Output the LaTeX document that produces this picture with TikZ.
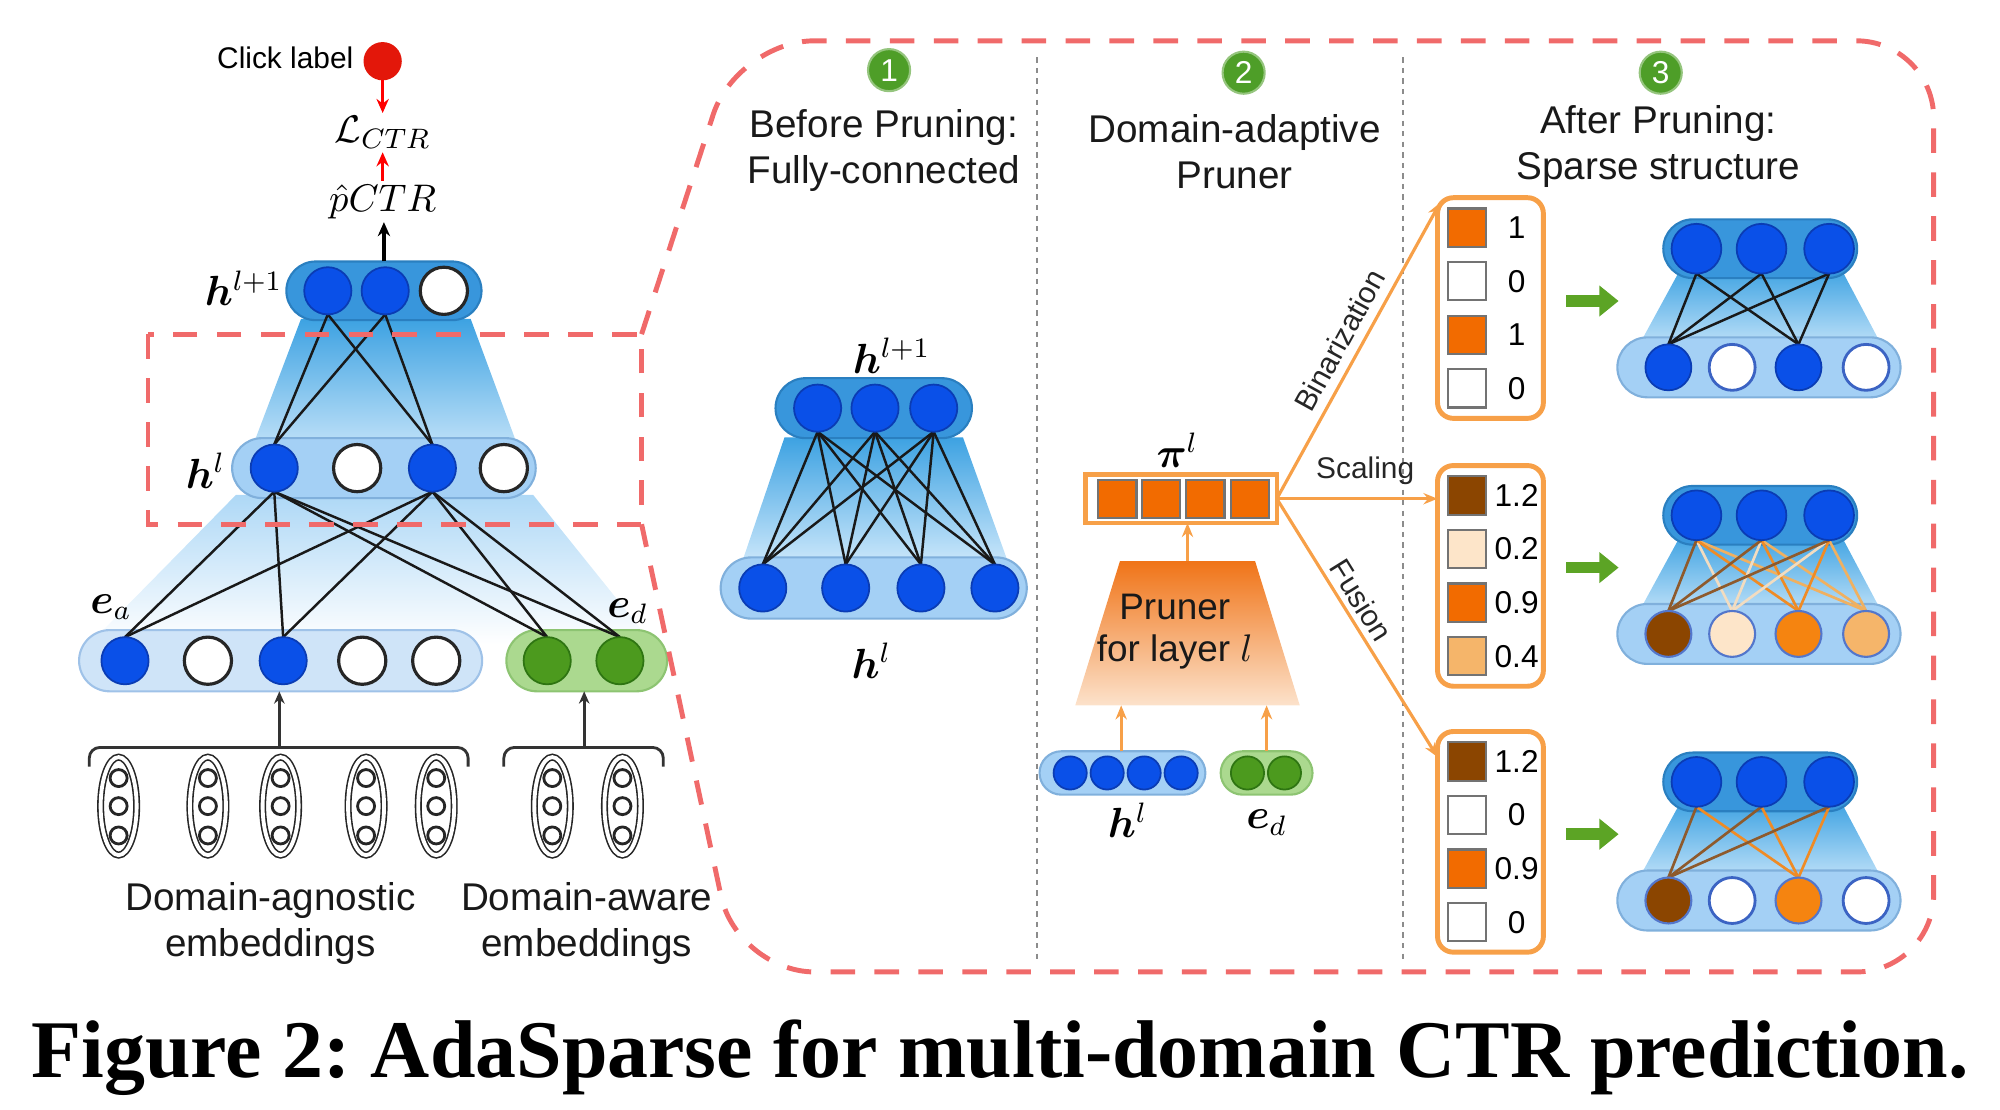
\documentclass[tikz,border=0pt]{standalone}
\usepackage{fontspec}
\setmainfont{Liberation Sans}
\newfontfamily\capfont{Liberation Serif}
\usepackage{amsmath}
\usepackage{bm}
\usetikzlibrary{shapes.misc,arrows.meta,calc}
\pgfdeclarelayer{bg}
\pgfdeclarelayer{edgelayer}
\pgfsetlayers{bg,edgelayer,main}
\def\uu{0.012755cm}
\definecolor{nblue}{HTML}{0A50E8}
\definecolor{nblueline}{HTML}{0A3CB4}
\definecolor{capdark}{HTML}{3896DC}
\definecolor{capdarkline}{HTML}{2A7FC0}
\definecolor{caplight}{HTML}{A4D0F5}
\definecolor{caplightline}{HTML}{80B0DC}
\definecolor{capea}{HTML}{CFE4F8}
\definecolor{capealine}{HTML}{9FC2E8}
\definecolor{shA}{HTML}{3DA2E2}
\definecolor{shB}{HTML}{BFE1F8}
\definecolor{shC}{HTML}{AED8F6}
\definecolor{shD}{HTML}{C9E6FA}
\definecolor{gcap}{HTML}{ABD98F}
\definecolor{gcapline}{HTML}{8DC472}
\definecolor{gnode}{HTML}{4C9A1E}
\definecolor{gnodeline}{HTML}{2E7512}
\definecolor{dred}{HTML}{F06A6A}
\definecolor{cred}{HTML}{E3170A}
\definecolor{oline}{HTML}{F7A048}
\definecolor{osq}{HTML}{F26B00}
\definecolor{obrown}{HTML}{8B4500}
\definecolor{opeach}{HTML}{FDE5C9}
\definecolor{olight}{HTML}{F5B56A}
\definecolor{ornode}{HTML}{F58410}
\definecolor{prA}{HTML}{F07418}
\definecolor{prB}{HTML}{FCE2CB}
\definecolor{numgreen}{HTML}{4E9E28}
\definecolor{arrgreen}{HTML}{5CA425}
\definecolor{eb}{HTML}{8E5A2C}
\definecolor{ep}{HTML}{F2DCC0}
\definecolor{eo}{HTML}{EF8B25}
\definecolor{el}{HTML}{F0B060}
\frenchspacing
\begin{document}
\begin{tikzpicture}[x=0.012755cm,y=-0.012755cm,
  every node/.style={inner sep=0pt,outer sep=0pt},
  ttl/.style={font=\fontsize{11}{13.1}\selectfont,align=center,text=black!90},
  lab/.style={font=\fontsize{12}{14}\selectfont},
  capD/.style={rounded rectangle,fill=capdark,draw=capdarkline,line width=0.6pt},
  capL/.style={rounded rectangle,fill=caplight,draw=caplightline,line width=0.6pt},
  capE/.style={rounded rectangle,fill=capea,draw=capealine,line width=0.6pt},
  capG/.style={rounded rectangle,fill=gcap,draw=gcapline,line width=0.6pt},
  bn/.style={circle,fill=nblue,draw=nblueline,line width=0.5pt,minimum size=37*\uu},
  wn/.style={circle,fill=white,draw=black!85,line width=0.9pt,minimum size=37*\uu},
  gn/.style={circle,fill=gnode,draw=gnodeline,line width=0.5pt,minimum size=37*\uu},
  rwn/.style={circle,fill=white,draw=nblueline!80,line width=0.8pt,minimum size=36*\uu},
  rcn/.style={circle,fill=#1,draw=nblueline!70,line width=0.6pt,minimum size=36*\uu},
  lnk/.style={draw=black!90,line width=0.7pt},
  clnk/.style={draw=#1,line width=0.75pt},
  numc/.style={circle,fill=numgreen,draw=numgreen!60!white,line width=0.6pt,minimum size=33*\uu,text=white,font=\fontsize{9}{9}\selectfont},
  vbox/.style={draw=oline,line width=1.4pt,rounded corners=4.5pt,minimum width=83*\uu,minimum height=173*\uu},
  sq/.style={fill=#1,draw=black!55,line width=0.6pt,minimum size=30*\uu},
  val/.style={font=\fontsize{9}{10}\selectfont},
  oarr/.style={draw=oline,line width=0.9pt,-{Stealth[length=4pt,width=3.2pt]}},
  garr/.style={draw=arrgreen,line width=3.3pt,-{Triangle[length=5.5pt,width=8.5pt]}},
  reddash/.style={draw=dred,line width=1.4pt,dash pattern=on 7pt off 5.5pt},
  sepline/.style={draw=black!45,line width=0.5pt,dash pattern=on 1.5pt off 1.5pt},
  pill/.style={draw=black!85,line width=0.45pt,double=white,double distance=1.1pt},
  blab/.style={font=\fontsize{8.5}{9}\selectfont,text=black!85},
]
\useasboundingbox (0,0) rectangle (1568,870);

% ================= LEFT PANEL =================
\begin{pgfonlayer}{bg}
\shade[top color=shA,bottom color=shB] (236,250) -- (369,250) -- (406,350) -- (198,350) -- cycle;
\shade[top color=shC,bottom color=white] (185,388) -- (418,388) -- (512,505) -- (70,505) -- cycle;
\node[capD,minimum width=153*\uu,minimum height=46*\uu] (Lc2) at (301,228) {};
\node[capL,minimum width=238*\uu,minimum height=47*\uu] (Lc1) at (301,367) {};
\node[capE,minimum width=316*\uu,minimum height=48*\uu] (Lce) at (220,518) {};
\node[capG,minimum width=126*\uu,minimum height=48*\uu] (Lcd) at (460,518) {};
\end{pgfonlayer}

\node[bn] (L2a) at (257,228) {};
\node[bn] (L2b) at (302,228) {};
\node[wn] (L2c) at (348,228) {};
\node[bn] (L1a) at (215,367) {};
\node[wn] (L1b) at (280,367) {};
\node[bn] (L1c) at (339,367) {};
\node[wn] (L1d) at (395,367) {};
\node[bn] (E1) at (98,518) {};
\node[wn] (E2) at (163,518) {};
\node[bn] (E3) at (222,518) {};
\node[wn] (E4) at (284,518) {};
\node[wn] (E5) at (342,518) {};
\node[gn] (D1) at (429,518) {};
\node[gn] (D2) at (486,518) {};

\begin{pgfonlayer}{edgelayer}
\foreach \a in {L2a,L2b} \foreach \b in {L1a,L1c} \draw[lnk] (\a.south) -- (\b.north);
\foreach \a in {L1a,L1c} \foreach \b in {E1,E3,D1,D2} \draw[lnk] (\a.south) -- (\b.north);
\end{pgfonlayer}

\node[circle,fill=cred,minimum size=30*\uu] (click) at (300,48) {};
\node[anchor=east,font=\fontsize{8.5}{10}\selectfont] (clk) at (277,45) {Click label};
\node[font=\fontsize{11}{12}\selectfont,inner sep=1pt] (loss) at (300,104) {$\mathcal{L}_{CTR}$};
\node[font=\fontsize{11}{12}\selectfont,inner sep=1pt] (pctr) at (300,158) {$\hat{p}CTR$};
\draw[draw=red,line width=0.9pt,-{Stealth[length=4pt,width=3.5pt]}] (click) -- (loss);
\draw[draw=red,line width=0.9pt,-{Stealth[length=4pt,width=3.5pt]}] (pctr) -- (loss);
\draw[black,line width=0.9pt,-{Stealth[length=4pt,width=3.5pt]}] (Lc2.north) -- (Lc2.north |- pctr.south);

\node[lab] (lh2) at (191,226) {$\bm{h}^{l+1}$};
\node[lab] (lh1) at (161,369) {$\bm{h}^{l}$};
\node[lab] (lea) at (87,476) {$\bm{e}_a$};
\node[lab] (led) at (492,479) {$\bm{e}_d$};

% braces
\draw[black!80,line width=0.8pt,rounded corners=3pt] (70,601) -- (70,586) -- (367,586) -- (367,601);
\draw[black!80,line width=0.8pt,rounded corners=3pt] (395,601) -- (395,586) -- (520,586) -- (520,601);
\coordinate (br1) at (219,586);
\coordinate (br2) at (458,586);
\draw[black!80,line width=0.8pt,-{Stealth[length=3.5pt,width=3pt]}] (br1) -- (br1 |- Lce.south);
\draw[black!80,line width=0.8pt,-{Stealth[length=3.5pt,width=3pt]}] (br2) -- (br2 |- Lcd.south);

% embedding pills
\foreach \x in {93,163,220,287,342,433,488}{
  \draw[pill] (\x,632) ellipse [x radius=0.18cm, y radius=0.49cm];
  \foreach \yy in {610,632,655}
    \draw[black!85,line width=0.8pt] (\x,\yy) circle [radius=0.085cm];
}

\node[ttl] (tag) at (212,724) {Domain-agnostic\\embeddings};
\node[ttl] (taw) at (460,724) {Domain-aware\\embeddings};

% ================= HEADERS =================
\draw[sepline] (813,45) -- (813,752);
\draw[sepline] (1100,45) -- (1100,752);
\node[numc] (n1) at (697,55) {1};
\node[numc] (n2) at (975,57) {2};
\node[numc] (n3) at (1302,57) {3};
\node[ttl] (t1) at (693,118) {Before Pruning:\\Fully-connected};
\node[ttl] (t2) at (968,119) {Domain-adaptive\\Pruner};
\node[ttl] (t3) at (1300,115) {After Pruning:\\Sparse structure};

% ================= BEFORE PRUNING =================
\begin{pgfonlayer}{bg}
\shade[top color=shA,bottom color=shD] (615,343) -- (755,343) -- (790,440) -- (582,440) -- cycle;
\node[capD,minimum width=154*\uu,minimum height=47*\uu] (Bc2) at (685,320) {};
\node[capL,minimum width=240*\uu,minimum height=48*\uu] (Bc1) at (685,461) {};
\end{pgfonlayer}
\foreach \i/\x in {1/641,2/686,3/732} \node[bn] (Bt\i) at (\x,320) {};
\foreach \i/\x in {1/598,2/663,3/722,4/780} \node[bn] (Bb\i) at (\x,461) {};
\begin{pgfonlayer}{edgelayer}
\foreach \i in {1,2,3} \foreach \j in {1,2,3,4} \draw[lnk] (Bt\i.south) -- (Bb\j.north);
\end{pgfonlayer}
\node[lab] (bh2) at (699,279) {$\bm{h}^{l+1}$};
\node[lab] (bh1) at (683,518) {$\bm{h}^{l}$};

% ================= PRUNER =================
\begin{pgfonlayer}{bg}
\shade[top color=prA,bottom color=prB] (878,440) -- (984,440) -- (1019,553) -- (843,553) -- cycle;
\node[capL,minimum width=130*\uu,minimum height=34*\uu] (mh) at (880,606) {};
\node[capG,minimum width=72*\uu,minimum height=34*\uu] (md) at (993,606) {};
\end{pgfonlayer}
\coordinate (prT) at (931,440);
\coordinate (prL) at (879,553);
\coordinate (prR) at (993,553);
\node[ttl,font=\fontsize{10.5}{12}\selectfont] (prtx) at (921,495) {Pruner\\for layer $l$};
\node[draw=oline,fill=white,line width=1.3pt,minimum width=150*\uu,minimum height=38*\uu] (pib) at (926,391) {};
\foreach \i/\x in {1/876,2/910,3/945,4/980} \node[sq=osq] (pq\i) at (\x,391) {};
\node[lab] (pil) at (923,353) {$\bm{\pi}^{l}$};
\draw[oarr] (prT) -- (prT |- pib.south);
\foreach \i/\x in {1/839,2/868,3/897,4/926} \node[bn,minimum size=26*\uu] (mh\i) at (\x,606) {};
\foreach \i/\x in {1/978,2/1007} \node[gn,minimum size=26*\uu] (md\i) at (\x,606) {};
\draw[oarr] (prL |- mh.north) -- (prL);
\draw[oarr] (prR |- md.north) -- (prR);
\node[lab] (mhl) at (884,643) {$\bm{h}^{l}$};
\node[lab] (mdl) at (993,645) {$\bm{e}_d$};

% value boxes
\node[vbox] (V1) at (1168.5,241.5) {};
\node[vbox] (V2) at (1168.5,451.5) {};
\node[vbox] (V3) at (1168.5,660) {};
\coordinate (piR) at (pib.east);
\draw[oarr] (piR) -- node[sloped,above=3pt,blab,pos=0.5] {Binarization} ($(V1.north west)+(2,4)$);
\draw[oarr] (piR) -- node[above=4pt,blab,pos=0.55] {Scaling} (V2.west |- piR);
\draw[oarr] (piR) -- node[sloped,above=2pt,blab,pos=0.43] {Fusion} ($(V3.north west)+(0,20)$);

\foreach \k/\dy/\c/\v in {1/-63/osq/1,2/-21/white/0,3/21/osq/1,4/63/white/0}{
  \node[sq=\c] (s1\k) at (1150,{241.5+(\dy)}) {};
  \node[val] (v1\k) at (1189,{241.5+(\dy)}) {\v};
}
\foreach \k/\dy/\c/\v in {1/-63/obrown/1.2,2/-21/opeach/0.2,3/21/osq/0.9,4/63/olight/0.4}{
  \node[sq=\c] (s2\k) at (1150,{451.5+(\dy)}) {};
  \node[val] (v2\k) at (1189,{451.5+(\dy)}) {\v};
}
\foreach \k/\dy/\c/\v in {1/-63/obrown/1.2,2/-21/white/0,3/21/osq/0.9,4/63/white/0}{
  \node[sq=\c] (s3\k) at (1150,{660+(\dy)}) {};
  \node[val] (v3\k) at (1189,{660+(\dy)}) {\v};
}

% green arrows
\coordinate (g1a) at (1228,236); \coordinate (g1b) at (1269,236);
\coordinate (g2a) at (1228,445); \coordinate (g2b) at (1269,445);
\coordinate (g3a) at (1228,654); \coordinate (g3b) at (1269,654);
\draw[garr] (g1a) -- (g1b);
\draw[garr] (g2a) -- (g2b);
\draw[garr] (g3a) -- (g3b);

% ================= AFTER PRUNING NETS =================
\foreach \n/\yt in {1/195,2/404,3/613}{
  \pgfmathsetmacro\yb{\yt+93}
  \begin{pgfonlayer}{bg}
    \shade[top color=shA,bottom color=shD] (1318,\yt+15) -- (1443,\yt+15) -- (1478,\yb-12) -- (1282,\yb-12) -- cycle;
    \node[capD,minimum width=152*\uu,minimum height=46*\uu] (R\n c2) at (1380,\yt) {};
    \node[capL,minimum width=222*\uu,minimum height=47*\uu] (R\n c1) at (1379,\yb) {};
  \end{pgfonlayer}
  \foreach \i/\x in {1/1330,2/1381,3/1434} \node[bn,minimum size=39*\uu] (R\n t\i) at (\x,\yt) {};
}
% net 1 bottom
\node[bn,minimum size=36*\uu] (R1b1) at (1308,288) {};
\node[rwn] (R1b2) at (1358,288) {};
\node[bn,minimum size=36*\uu] (R1b3) at (1410,288) {};
\node[rwn] (R1b4) at (1463,288) {};
% net 2 bottom
\node[rcn=obrown] (R2b1) at (1308,497) {};
\node[rcn=opeach] (R2b2) at (1358,497) {};
\node[rcn=ornode] (R2b3) at (1410,497) {};
\node[rcn=olight] (R2b4) at (1463,497) {};
% net 3 bottom
\node[rcn=obrown] (R3b1) at (1308,706) {};
\node[rwn] (R3b2) at (1358,706) {};
\node[rcn=ornode] (R3b3) at (1410,706) {};
\node[rwn] (R3b4) at (1463,706) {};

\begin{pgfonlayer}{edgelayer}
\foreach \i in {1,2,3} \foreach \j in {1,3} \draw[lnk] (R1t\i.south) -- (R1b\j.north);
\foreach \i in {1,2,3} \foreach \j/\c in {2/ep,4/el,3/eo,1/eb} \draw[clnk=\c] (R2t\i.south) -- (R2b\j.north);
\foreach \i in {1,2,3} \foreach \j/\c in {3/eo,1/eb} \draw[clnk=\c] (R3t\i.south) -- (R3b\j.north);
\end{pgfonlayer}

% ================= RED DASHED ZOOM FRAME =================
\draw[reddash] (116,262) rectangle (503,411);
\draw[reddash,rounded corners=22pt] (503,262) -- (578,32) -- (1516,32) -- (1516,762) -- (578,762) -- (503,411);

% ================= CAPTION =================
\node[font=\capfont\bfseries\fontsize{23.3}{27}\selectfont,anchor=base] (cap) at (784,845) {Figure 2: AdaSparse for multi-domain CTR prediction.};
\end{tikzpicture}
\end{document}
